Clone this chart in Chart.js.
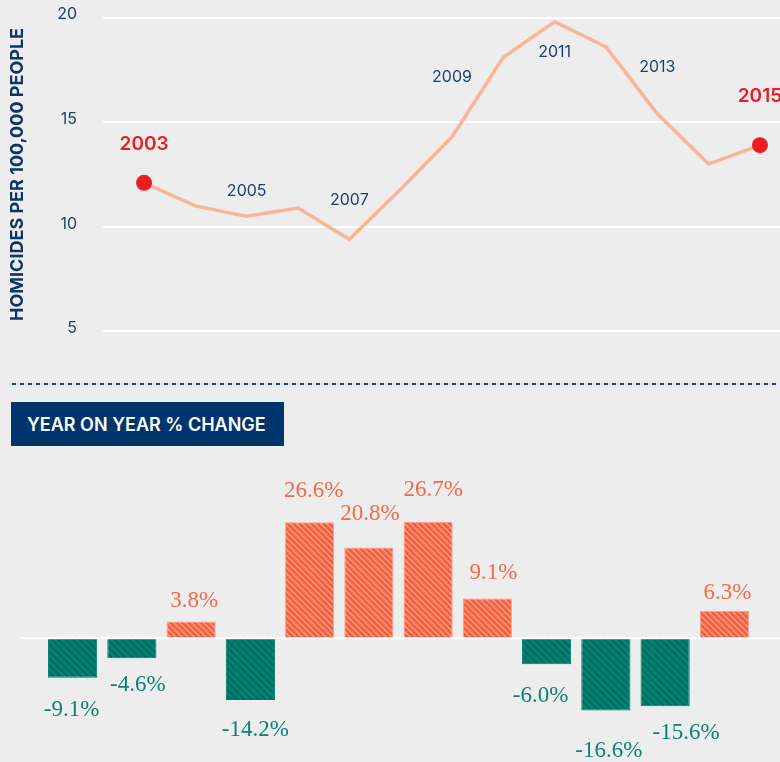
<!DOCTYPE html>
<html>
<head>
<meta charset="utf-8">
<title>Homicide rate</title>
<script src="https://cdn.jsdelivr.net/npm/chart.js@4.4.1/dist/chart.umd.min.js"></script>
<style>
    body {
        margin: 0;
        width: 780px;
        height: 762px;
        overflow: hidden;
        position: relative;
        background: #ededed;
        font-family: Inter, "Noto Sans", sans-serif;
    }
    #rate-wrap { position: absolute; left: 0; top: -18px; width: 789px; height: 385px; }
    #change-wrap { position: absolute; left: 0; top: 455px; width: 780px; height: 307px; }
    .divider {
        position: absolute; left: 12px; right: 0; top: 383px; height: 2px;
        background: repeating-linear-gradient(to right, #1d4177 0 4px, transparent 4px 8px);
    }
    .badge {
        position: absolute; left: 11px; top: 402px; width: 273px; height: 44px;
        box-sizing: border-box; padding-left: 16px;
        background: #00356b; color: #fff;
        font-weight: 600; font-size: 18px; line-height: 45px;
    }
</style>
</head>
<body>
<div id="rate-wrap"><canvas id="rate-chart"></canvas></div>
<div class="divider"></div>
<div class="badge">YEAR ON YEAR % CHANGE</div>
<div id="change-wrap"><canvas id="change-chart"></canvas></div>

<script>
// данные
const years = [2003, 2004, 2005, 2006, 2007, 2008, 2009, 2010, 2011, 2012, 2013, 2014, 2015];
const homicideRate = [12.1, 11.0, 10.5, 10.9, 9.4, 11.8, 14.3, 18.1, 19.8, 18.6, 15.4, 13.0, 13.9];
const rateTicks = [5, 10, 15, 20];

const changeYears = ['2004', '2005', '2006', '2007', '2008', '2009', '2010', '2011', '2012', '2013', '2014', '2015'];
const yoyChange = [-9.1, -4.6, 3.8, -14.2, 26.6, 20.8, 26.7, 9.1, -6.0, -16.6, -15.6, 6.3];

const NAVY = '#1f3f72';
const RED = '#ed1c24';
const ORANGE_TEXT = '#f26a4c';
const TEAL_TEXT = '#0b8278';

// Штриховка для столбцов
function makeHatch(fill, stripe, size) {
    const c = document.createElement('canvas');
    c.width = size;
    c.height = size;
    const g = c.getContext('2d');
    g.fillStyle = fill;
    g.fillRect(0, 0, size, size);
    g.strokeStyle = stripe;
    g.lineWidth = 1.3;
    g.beginPath();
    g.moveTo(0, 0); g.lineTo(size, size);
    g.moveTo(-1, size - 1); g.lineTo(1, size + 1);
    g.moveTo(size - 1, -1); g.lineTo(size + 1, 1);
    g.stroke();
    return g.createPattern(c, 'repeat');
}

// Подписи годов над линией
const yearLabelPlugin = {
    id: 'yearLabels',
    afterDatasetsDraw(chart, args, opts) {
        const { ctx, scales: { x, y } } = chart;
        ctx.save();
        ctx.textAlign = 'center';
        ctx.textBaseline = 'middle';
        opts.items.forEach(item => {
            ctx.font = item.bold ? '600 19px Inter' : '16px Inter';
            ctx.fillStyle = item.bold ? RED : NAVY;
            ctx.fillText(String(item.year), x.getPixelForValue(item.year), y.getPixelForValue(item.at));
        });
        ctx.restore();
    }
};

// Нулевая линия и подписи процентов
const barLabelPlugin = {
    id: 'barLabels',
    afterDatasetsDraw(chart, args, opts) {
        const { ctx, scales: { y } } = chart;
        const zero = y.getPixelForValue(0);
        ctx.save();
        ctx.strokeStyle = '#ffffff';
        ctx.lineWidth = 2;
        ctx.beginPath();
        ctx.moveTo(20, zero);
        ctx.lineTo(chart.width, zero);
        ctx.stroke();

        ctx.font = '23px "Liberation Serif", serif';
        ctx.textAlign = 'center';
        ctx.textBaseline = 'middle';
        chart.getDatasetMeta(0).data.forEach((bar, i) => {
            const v = yoyChange[i];
            const nudge = opts.nudge[i];
            ctx.fillStyle = v >= 0 ? ORANGE_TEXT : TEAL_TEXT;
            ctx.fillText(v.toFixed(1) + '%', bar.x + nudge[0], bar.y + nudge[1]);
        });
        ctx.restore();
    }
};

new Chart(document.getElementById('rate-chart'), {
    type: 'line',
    data: {
        datasets: [{
            data: years.map((yr, i) => ({ x: yr, y: homicideRate[i] })),
            borderColor: '#f9b598',
            borderWidth: 3.5,
            tension: 0,
            clip: false,
            pointRadius: years.map((yr, i) => (i === 0 || i === years.length - 1) ? 8 : 0),
            pointBackgroundColor: RED,
            pointBorderWidth: 0,
        }]
    },
    options: {
        responsive: true,
        maintainAspectRatio: false,
        animation: false,
        layout: { padding: { top: 18, bottom: 15, left: 0, right: 0 } },
        plugins: {
            legend: { display: false },
            tooltip: { enabled: false },
            yearLabels: {
                items: [
                    { year: 2003, at: 13.94, bold: true },
                    { year: 2005, at: 11.70 },
                    { year: 2007, at: 11.28 },
                    { year: 2009, at: 17.16 },
                    { year: 2011, at: 18.33 },
                    { year: 2013, at: 17.61 },
                    { year: 2015, at: 16.25, bold: true },
                ]
            }
        },
        scales: {
            x: { type: 'linear', min: 2002.2, max: 2015.41, display: false },
            y: {
                min: 5,
                max: 20,
                afterBuildTicks: s => { s.ticks = rateTicks.map(v => ({ value: v })); },
                afterFit: s => { s.width = 103; },
                border: { display: false },
                grid: { color: '#ffffff', lineWidth: 2, drawTicks: false },
                ticks: { padding: 26, labelOffset: -3, color: NAVY, font: { family: 'Inter', size: 16 } },
                title: {
                    display: true,
                    text: 'HOMICIDES PER 100,000 PEOPLE',
                    color: '#0e3468',
                    font: { family: 'Inter', size: 18, weight: '700' },
                    padding: { top: 7, bottom: 0 }
                }
            }
        }
    },
    plugins: [yearLabelPlugin]
});

const upHatch = makeHatch('#f4603f', '#f9a089', 6);
const downHatch = makeHatch('#00806f', '#00635a', 7);

new Chart(document.getElementById('change-chart'), {
    type: 'bar',
    data: {
        labels: changeYears,
        datasets: [{
            data: yoyChange,
            backgroundColor: yoyChange.map(v => v >= 0 ? upHatch : downHatch),
            borderColor: yoyChange.map(v => v >= 0 ? '#f7a08c' : '#00756a'),
            borderWidth: 1,
            categoryPercentage: 1,
            barPercentage: 0.83,
        }]
    },
    options: {
        responsive: true,
        maintainAspectRatio: false,
        animation: false,
        layout: { padding: { top: 0, bottom: 0, left: 43, right: 26 } },
        plugins: {
            legend: { display: false },
            tooltip: { enabled: false },
            barLabels: {
                // сдвиг подписи от конца столбца, как на исходной картинке
                nudge: [[-1, 32], [6, 27], [3, -21], [5, 30], [4, -31], [1, -33],
                        [5, -32], [6, -26], [-6, 32], [3, 40], [21, 27], [3, -18]]
            }
        },
        scales: {
            x: { display: false },
            y: { display: false, min: -28.4, max: 42 }
        }
    },
    plugins: [barLabelPlugin]
});
</script>
</body>
</html>
